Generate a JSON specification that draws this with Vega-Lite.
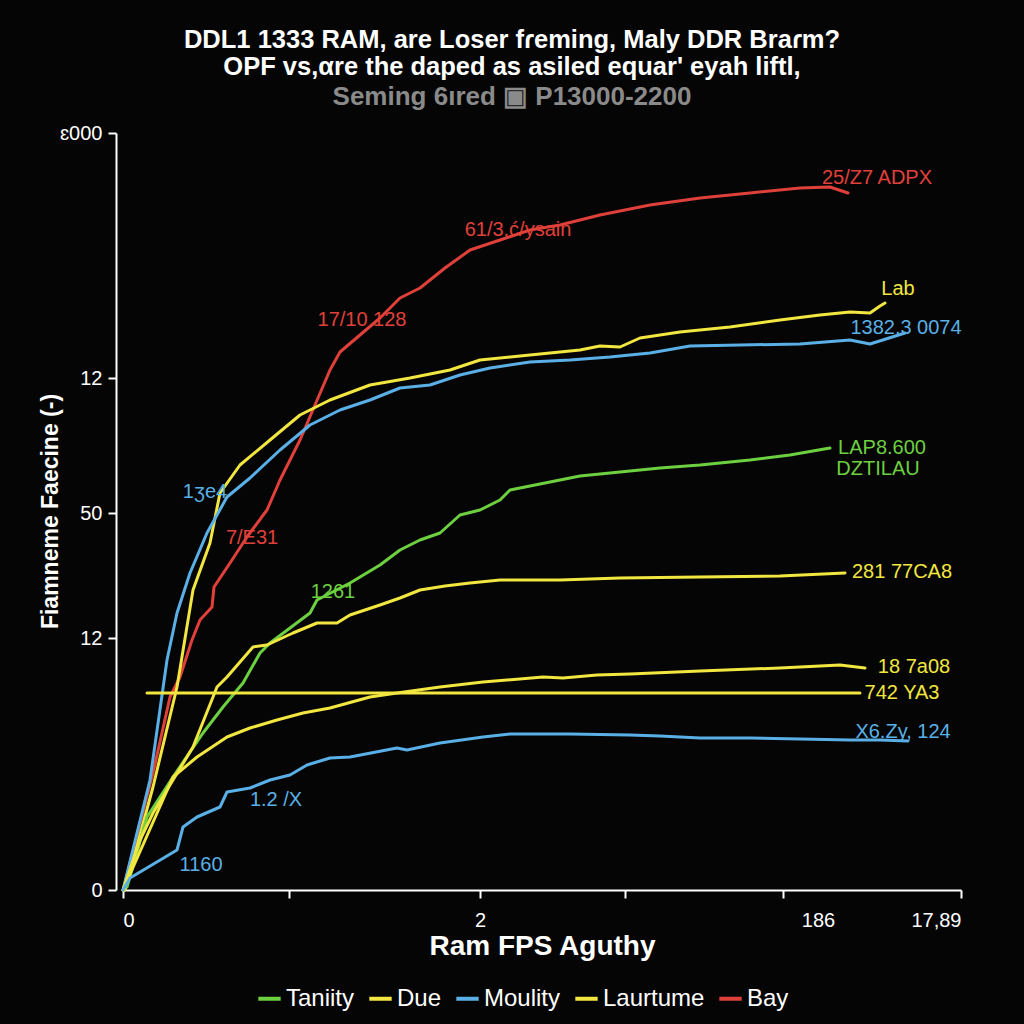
{
  "$schema": "https://vega.github.io/schema/vega-lite/v6.json",
  "width": 838,
  "height": 757,
  "autosize": "none",
  "padding": {"left": 123, "top": 133, "right": 63, "bottom": 134},
  "background": "#050505",
  "title": {
    "text": ["DDL1 1333 RAM, are Loser fɾeming, Maly DDR Braɾm?", "OPF vs,αre the daped as asiled equar' eyah liftl,"],
    "subtitle": "Seming 6ıred ▣ P13000-2200",
    "anchor": "middle",
    "frame": "group",
    "dx": -30,
    "offset": 13,
    "font": "Liberation Sans",
    "fontSize": 25.5,
    "fontWeight": "bold",
    "color": "#ffffff",
    "lineHeight": 27,
    "subtitleFont": "Liberation Sans",
    "subtitleFontSize": 26,
    "subtitleFontWeight": "bold",
    "subtitleColor": "#8a8a8a",
    "subtitlePadding": 4
  },
  "datasets": {
    "lines": [
      {"line": "R", "series": "Bay", "x": 0, "y": 0},
      {"line": "R", "series": "Bay", "x": 30, "y": 117},
      {"line": "R", "series": "Bay", "x": 47, "y": 193},
      {"line": "R", "series": "Bay", "x": 57, "y": 213},
      {"line": "R", "series": "Bay", "x": 69, "y": 250},
      {"line": "R", "series": "Bay", "x": 77, "y": 270},
      {"line": "R", "series": "Bay", "x": 89, "y": 283},
      {"line": "R", "series": "Bay", "x": 91, "y": 303},
      {"line": "R", "series": "Bay", "x": 107, "y": 327},
      {"line": "R", "series": "Bay", "x": 124, "y": 353},
      {"line": "R", "series": "Bay", "x": 144, "y": 380},
      {"line": "R", "series": "Bay", "x": 157, "y": 410},
      {"line": "R", "series": "Bay", "x": 167, "y": 430},
      {"line": "R", "series": "Bay", "x": 177, "y": 450},
      {"line": "R", "series": "Bay", "x": 192, "y": 485},
      {"line": "R", "series": "Bay", "x": 207, "y": 520},
      {"line": "R", "series": "Bay", "x": 217, "y": 538},
      {"line": "R", "series": "Bay", "x": 237, "y": 555},
      {"line": "R", "series": "Bay", "x": 257, "y": 572},
      {"line": "R", "series": "Bay", "x": 277, "y": 592},
      {"line": "R", "series": "Bay", "x": 297, "y": 602},
      {"line": "R", "series": "Bay", "x": 322, "y": 622},
      {"line": "R", "series": "Bay", "x": 347, "y": 640},
      {"line": "R", "series": "Bay", "x": 377, "y": 650},
      {"line": "R", "series": "Bay", "x": 407, "y": 660},
      {"line": "R", "series": "Bay", "x": 437, "y": 665},
      {"line": "R", "series": "Bay", "x": 477, "y": 675},
      {"line": "R", "series": "Bay", "x": 527, "y": 685},
      {"line": "R", "series": "Bay", "x": 577, "y": 692},
      {"line": "R", "series": "Bay", "x": 627, "y": 697},
      {"line": "R", "series": "Bay", "x": 677, "y": 702},
      {"line": "R", "series": "Bay", "x": 707, "y": 703},
      {"line": "R", "series": "Bay", "x": 725, "y": 697},

      {"line": "YU", "series": "Due", "x": 2, "y": 0},
      {"line": "YU", "series": "Due", "x": 30, "y": 103},
      {"line": "YU", "series": "Due", "x": 54, "y": 203},
      {"line": "YU", "series": "Due", "x": 70, "y": 300},
      {"line": "YU", "series": "Due", "x": 87, "y": 347},
      {"line": "YU", "series": "Due", "x": 97, "y": 397},
      {"line": "YU", "series": "Due", "x": 117, "y": 425},
      {"line": "YU", "series": "Due", "x": 147, "y": 450},
      {"line": "YU", "series": "Due", "x": 177, "y": 475},
      {"line": "YU", "series": "Due", "x": 207, "y": 490},
      {"line": "YU", "series": "Due", "x": 247, "y": 505},
      {"line": "YU", "series": "Due", "x": 287, "y": 512},
      {"line": "YU", "series": "Due", "x": 327, "y": 520},
      {"line": "YU", "series": "Due", "x": 357, "y": 530},
      {"line": "YU", "series": "Due", "x": 397, "y": 534},
      {"line": "YU", "series": "Due", "x": 437, "y": 538},
      {"line": "YU", "series": "Due", "x": 457, "y": 540},
      {"line": "YU", "series": "Due", "x": 477, "y": 544},
      {"line": "YU", "series": "Due", "x": 497, "y": 543},
      {"line": "YU", "series": "Due", "x": 517, "y": 552},
      {"line": "YU", "series": "Due", "x": 557, "y": 558},
      {"line": "YU", "series": "Due", "x": 607, "y": 563},
      {"line": "YU", "series": "Due", "x": 657, "y": 570},
      {"line": "YU", "series": "Due", "x": 697, "y": 575},
      {"line": "YU", "series": "Due", "x": 727, "y": 578},
      {"line": "YU", "series": "Due", "x": 747, "y": 577},
      {"line": "YU", "series": "Due", "x": 757, "y": 584},
      {"line": "YU", "series": "Due", "x": 762, "y": 587},

      {"line": "BU", "series": "Moulity", "x": 0, "y": 0},
      {"line": "BU", "series": "Moulity", "x": 27, "y": 110},
      {"line": "BU", "series": "Moulity", "x": 44, "y": 230},
      {"line": "BU", "series": "Moulity", "x": 54, "y": 277},
      {"line": "BU", "series": "Moulity", "x": 67, "y": 317},
      {"line": "BU", "series": "Moulity", "x": 84, "y": 357},
      {"line": "BU", "series": "Moulity", "x": 104, "y": 393},
      {"line": "BU", "series": "Moulity", "x": 127, "y": 412},
      {"line": "BU", "series": "Moulity", "x": 157, "y": 440},
      {"line": "BU", "series": "Moulity", "x": 187, "y": 465},
      {"line": "BU", "series": "Moulity", "x": 217, "y": 480},
      {"line": "BU", "series": "Moulity", "x": 247, "y": 490},
      {"line": "BU", "series": "Moulity", "x": 277, "y": 502},
      {"line": "BU", "series": "Moulity", "x": 307, "y": 505},
      {"line": "BU", "series": "Moulity", "x": 337, "y": 515},
      {"line": "BU", "series": "Moulity", "x": 367, "y": 522},
      {"line": "BU", "series": "Moulity", "x": 407, "y": 528},
      {"line": "BU", "series": "Moulity", "x": 447, "y": 530},
      {"line": "BU", "series": "Moulity", "x": 487, "y": 533},
      {"line": "BU", "series": "Moulity", "x": 527, "y": 537},
      {"line": "BU", "series": "Moulity", "x": 567, "y": 544},
      {"line": "BU", "series": "Moulity", "x": 617, "y": 545},
      {"line": "BU", "series": "Moulity", "x": 677, "y": 546},
      {"line": "BU", "series": "Moulity", "x": 727, "y": 550},
      {"line": "BU", "series": "Moulity", "x": 747, "y": 546},
      {"line": "BU", "series": "Moulity", "x": 782, "y": 557},

      {"line": "G", "series": "Taniity", "x": 4, "y": 3},
      {"line": "G", "series": "Taniity", "x": 24, "y": 73},
      {"line": "G", "series": "Taniity", "x": 50, "y": 113},
      {"line": "G", "series": "Taniity", "x": 80, "y": 157},
      {"line": "G", "series": "Taniity", "x": 100, "y": 183},
      {"line": "G", "series": "Taniity", "x": 120, "y": 207},
      {"line": "G", "series": "Taniity", "x": 137, "y": 237},
      {"line": "G", "series": "Taniity", "x": 147, "y": 247},
      {"line": "G", "series": "Taniity", "x": 167, "y": 262},
      {"line": "G", "series": "Taniity", "x": 187, "y": 277},
      {"line": "G", "series": "Taniity", "x": 194, "y": 290},
      {"line": "G", "series": "Taniity", "x": 227, "y": 307},
      {"line": "G", "series": "Taniity", "x": 257, "y": 325},
      {"line": "G", "series": "Taniity", "x": 277, "y": 340},
      {"line": "G", "series": "Taniity", "x": 297, "y": 350},
      {"line": "G", "series": "Taniity", "x": 317, "y": 357},
      {"line": "G", "series": "Taniity", "x": 337, "y": 375},
      {"line": "G", "series": "Taniity", "x": 357, "y": 380},
      {"line": "G", "series": "Taniity", "x": 377, "y": 390},
      {"line": "G", "series": "Taniity", "x": 387, "y": 400},
      {"line": "G", "series": "Taniity", "x": 417, "y": 406},
      {"line": "G", "series": "Taniity", "x": 457, "y": 414},
      {"line": "G", "series": "Taniity", "x": 497, "y": 418},
      {"line": "G", "series": "Taniity", "x": 537, "y": 422},
      {"line": "G", "series": "Taniity", "x": 577, "y": 425},
      {"line": "G", "series": "Taniity", "x": 627, "y": 430},
      {"line": "G", "series": "Taniity", "x": 667, "y": 435},
      {"line": "G", "series": "Taniity", "x": 707, "y": 442},

      {"line": "YM", "series": "Laurtume", "x": 0, "y": 0},
      {"line": "YM", "series": "Laurtume", "x": 17, "y": 50},
      {"line": "YM", "series": "Laurtume", "x": 30, "y": 77},
      {"line": "YM", "series": "Laurtume", "x": 70, "y": 143},
      {"line": "YM", "series": "Laurtume", "x": 94, "y": 203},
      {"line": "YM", "series": "Laurtume", "x": 104, "y": 213},
      {"line": "YM", "series": "Laurtume", "x": 130, "y": 243},
      {"line": "YM", "series": "Laurtume", "x": 144, "y": 245},
      {"line": "YM", "series": "Laurtume", "x": 170, "y": 257},
      {"line": "YM", "series": "Laurtume", "x": 194, "y": 267},
      {"line": "YM", "series": "Laurtume", "x": 214, "y": 267},
      {"line": "YM", "series": "Laurtume", "x": 227, "y": 275},
      {"line": "YM", "series": "Laurtume", "x": 257, "y": 285},
      {"line": "YM", "series": "Laurtume", "x": 277, "y": 292},
      {"line": "YM", "series": "Laurtume", "x": 297, "y": 300},
      {"line": "YM", "series": "Laurtume", "x": 322, "y": 304},
      {"line": "YM", "series": "Laurtume", "x": 347, "y": 307},
      {"line": "YM", "series": "Laurtume", "x": 377, "y": 310},
      {"line": "YM", "series": "Laurtume", "x": 437, "y": 310},
      {"line": "YM", "series": "Laurtume", "x": 497, "y": 312},
      {"line": "YM", "series": "Laurtume", "x": 577, "y": 313},
      {"line": "YM", "series": "Laurtume", "x": 657, "y": 314},
      {"line": "YM", "series": "Laurtume", "x": 722, "y": 317},

      {"line": "YL", "series": "Due", "x": 0, "y": 0},
      {"line": "YL", "series": "Due", "x": 50, "y": 113},
      {"line": "YL", "series": "Due", "x": 74, "y": 133},
      {"line": "YL", "series": "Due", "x": 104, "y": 153},
      {"line": "YL", "series": "Due", "x": 127, "y": 162},
      {"line": "YL", "series": "Due", "x": 154, "y": 170},
      {"line": "YL", "series": "Due", "x": 180, "y": 177},
      {"line": "YL", "series": "Due", "x": 207, "y": 182},
      {"line": "YL", "series": "Due", "x": 247, "y": 193},
      {"line": "YL", "series": "Due", "x": 274, "y": 197},
      {"line": "YL", "series": "Due", "x": 317, "y": 203},
      {"line": "YL", "series": "Due", "x": 360, "y": 208},
      {"line": "YL", "series": "Due", "x": 420, "y": 213},
      {"line": "YL", "series": "Due", "x": 440, "y": 212},
      {"line": "YL", "series": "Due", "x": 474, "y": 215},
      {"line": "YL", "series": "Due", "x": 507, "y": 216},
      {"line": "YL", "series": "Due", "x": 577, "y": 219},
      {"line": "YL", "series": "Due", "x": 657, "y": 222},
      {"line": "YL", "series": "Due", "x": 717, "y": 225},
      {"line": "YL", "series": "Due", "x": 742, "y": 222},

      {"line": "BL", "series": "Moulity", "x": 0, "y": 0},
      {"line": "BL", "series": "Moulity", "x": 7, "y": 12},
      {"line": "BL", "series": "Moulity", "x": 54, "y": 40},
      {"line": "BL", "series": "Moulity", "x": 60, "y": 63},
      {"line": "BL", "series": "Moulity", "x": 74, "y": 73},
      {"line": "BL", "series": "Moulity", "x": 97, "y": 83},
      {"line": "BL", "series": "Moulity", "x": 104, "y": 98},
      {"line": "BL", "series": "Moulity", "x": 127, "y": 102},
      {"line": "BL", "series": "Moulity", "x": 147, "y": 110},
      {"line": "BL", "series": "Moulity", "x": 167, "y": 115},
      {"line": "BL", "series": "Moulity", "x": 184, "y": 125},
      {"line": "BL", "series": "Moulity", "x": 207, "y": 132},
      {"line": "BL", "series": "Moulity", "x": 227, "y": 133},
      {"line": "BL", "series": "Moulity", "x": 274, "y": 142},
      {"line": "BL", "series": "Moulity", "x": 284, "y": 140},
      {"line": "BL", "series": "Moulity", "x": 317, "y": 147},
      {"line": "BL", "series": "Moulity", "x": 360, "y": 153},
      {"line": "BL", "series": "Moulity", "x": 387, "y": 156},
      {"line": "BL", "series": "Moulity", "x": 447, "y": 156},
      {"line": "BL", "series": "Moulity", "x": 507, "y": 155},
      {"line": "BL", "series": "Moulity", "x": 537, "y": 154},
      {"line": "BL", "series": "Moulity", "x": 577, "y": 152},
      {"line": "BL", "series": "Moulity", "x": 627, "y": 152},
      {"line": "BL", "series": "Moulity", "x": 677, "y": 151},
      {"line": "BL", "series": "Moulity", "x": 727, "y": 150},
      {"line": "BL", "series": "Moulity", "x": 757, "y": 150},
      {"line": "BL", "series": "Moulity", "x": 785, "y": 149},

      {"line": "H", "series": "Laurtume", "x": 24, "y": 197},
      {"line": "H", "series": "Laurtume", "x": 737, "y": 197}
    ],
    "notes": [
      {"t": "17/10 128", "series": "Bay", "x": 239, "y": 570},
      {"t": "61/3.ć/ysain", "series": "Bay", "x": 395, "y": 660},
      {"t": "25/Z7 ADPX", "series": "Bay", "x": 754, "y": 712},
      {"t": "7/E31", "series": "Bay", "x": 129, "y": 352},
      {"t": "Lab", "series": "Due", "x": 775, "y": 601},
      {"t": "1382.3 0074", "series": "Moulity", "x": 783, "y": 562},
      {"t": "1ʒe4", "series": "Moulity", "x": 82, "y": 398},
      {"t": "LAP8.600", "series": "Taniity", "x": 759, "y": 442},
      {"t": "DZTILAU", "series": "Taniity", "x": 755, "y": 421},
      {"t": "1261", "series": "Taniity", "x": 210, "y": 298},
      {"t": "281 77CA8", "series": "Due", "x": 779, "y": 318},
      {"t": "18 7a08", "series": "Due", "x": 791, "y": 223},
      {"t": "742 YA3", "series": "Due", "x": 779, "y": 197},
      {"t": "X6.Zy, 124", "series": "Moulity", "x": 780, "y": 158},
      {"t": "1.2 /X", "series": "Moulity", "x": 153, "y": 90},
      {"t": "1160", "series": "Moulity", "x": 78, "y": 25}
    ]
  },
  "layer": [
    {
      "data": {"name": "lines"},
      "mark": {"type": "line", "strokeWidth": 3, "strokeCap": "round", "strokeJoin": "round"},
      "encoding": {
        "x": {
          "field": "x", "type": "quantitative",
          "scale": {"domain": [0, 838], "nice": false},
          "axis": {
            "title": "Ram FPS Aguthy",
            "values": [0, 166, 357, 502, 660, 838],
            "labelExpr": "datum.value == 0 ? '0' : datum.value == 357 ? '2' : datum.value == 660 ? '186' : datum.value == 838 ? '17,89' : ''",
            "labelOffset": {"condition": {"test": "datum.value == 660", "value": 35}, "value": 0},
            "labelFontSize": 20,
            "labelPadding": 12,
            "titleFontSize": 28,
            "titlePadding": 2
          }
        },
        "y": {
          "field": "y", "type": "quantitative",
          "scale": {"domain": [0, 757], "nice": false},
          "axis": {
            "title": "Fiamneme Faecine (-)",
            "values": [0, 252, 377, 512, 757],
            "labelExpr": "datum.value == 0 ? '0' : datum.value == 252 ? '12' : datum.value == 377 ? '50' : datum.value == 512 ? '12' : 'ɛ000'",
            "offset": 7,
            "labelFontSize": 20,
            "titleFontSize": 23,
            "titleX": -59,
            "titleY": 378,
            "titleBaseline": "alphabetic"
          }
        },
        "color": {
          "field": "series", "type": "nominal",
          "scale": {
            "domain": ["Taniity", "Due", "Moulity", "Laurtume", "Bay"],
            "range": ["#6cd040", "#f2e640", "#5ab0e6", "#f2e640", "#e0403a"]
          },
          "legend": {
            "title": null,
            "orient": "none",
            "legendX": 133,
            "legendY": 852,
            "direction": "horizontal",
            "labelFontSize": 24,
            "labelColor": "#ffffff",
            "labelFont": "Liberation Sans",
            "symbolType": "stroke",
            "symbolSize": 500,
            "symbolStrokeWidth": 4,
            "labelOffset": 3,
            "columnPadding": 6
          }
        },
        "detail": {"field": "line", "type": "nominal"}
      }
    },
    {
      "data": {"name": "notes"},
      "mark": {"type": "text", "font": "Liberation Sans", "fontSize": 20, "align": "center", "baseline": "middle"},
      "encoding": {
        "x": {"field": "x", "type": "quantitative"},
        "y": {"field": "y", "type": "quantitative"},
        "text": {"field": "t"},
        "color": {"field": "series", "type": "nominal", "legend": null}
      }
    }
  ],
  "config": {
    "view": {"stroke": null},
    "font": "Liberation Sans",
    "axis": {
      "grid": false,
      "domainColor": "#ffffff",
      "domainWidth": 2,
      "tickColor": "#ffffff",
      "tickWidth": 2,
      "tickSize": 8,
      "labelColor": "#ffffff",
      "labelFont": "Liberation Sans",
      "titleColor": "#ffffff",
      "titleFont": "Liberation Sans",
      "titleFontWeight": "bold",
      "labelPadding": 6
    }
  }
}
